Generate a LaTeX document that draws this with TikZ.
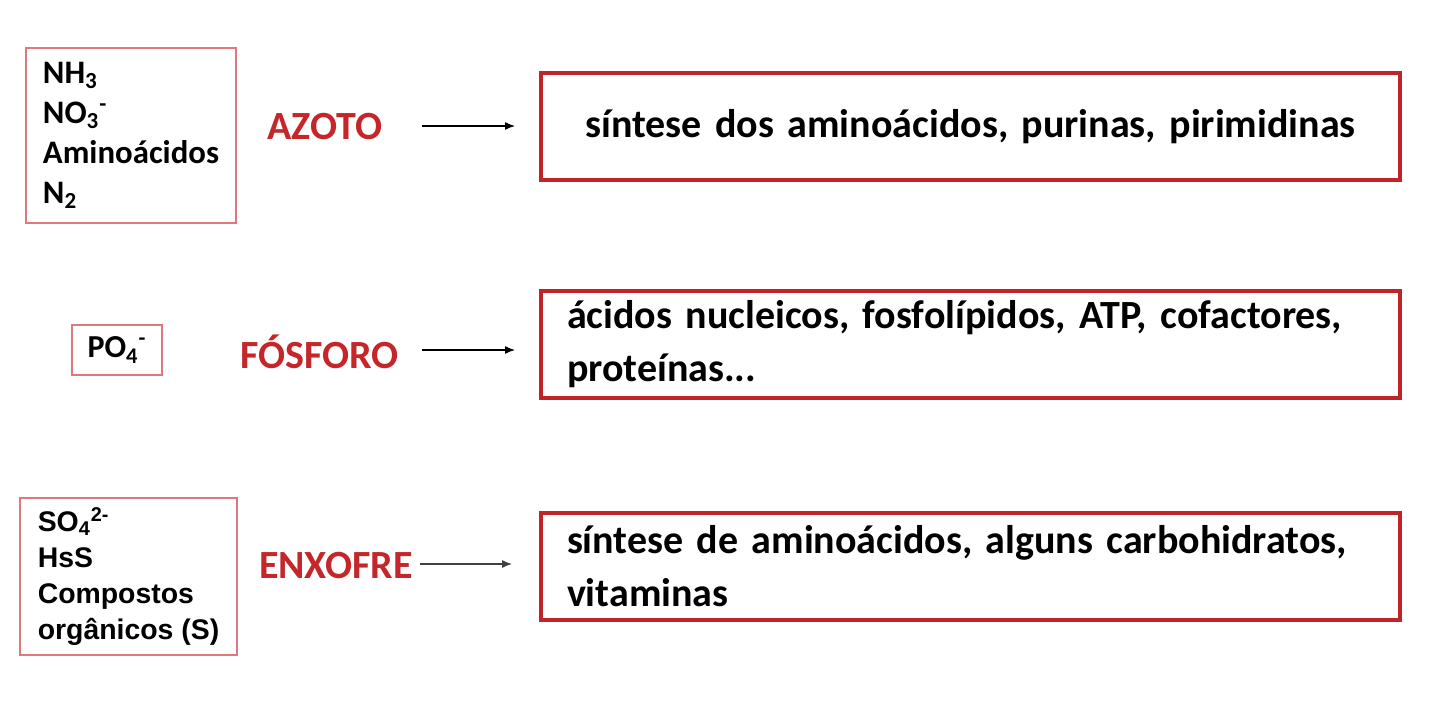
\documentclass[tikz,border=0pt]{standalone}
\usepackage{fontspec}
\setmainfont{Carlito}
\newfontfamily\arialfont{Liberation Sans}
\usepackage{xcolor}
\usetikzlibrary{arrows.meta}
\definecolor{elemred}{RGB}{196,38,42}
\definecolor{boxred}{RGB}{192,36,40}
\definecolor{boxpink}{RGB}{222,120,124}

\begin{document}
\begin{tikzpicture}[x=0.5pt, y=-0.5pt,
        srcbox/.style={draw=boxpink, line width=0.75pt, align=left, inner ysep=0pt},
        elem/.style={text=elemred, font=\bfseries\fontsize{20}{24}\selectfont},
        resbox/.style={draw=boxred, line width=2pt, minimum width=429.5pt, minimum height=53.5pt,
            inner xsep=13pt, text width=403.5pt, font=\bfseries\fontsize{20}{26.5}\selectfont},
        arr/.style={-{Latex[length=5pt, width=4pt]}, line width=0.6pt}]
        \useasboundingbox (0,0) rectangle (1440,717);

        % fontes
        \node[srcbox, minimum width=105pt, minimum height=87.5pt,
            font=\bfseries\fontsize{16.4}{20}\selectfont] at (131, 135.5) (src1)
            {NH\textsubscript{3}\\NO\textsubscript{3}\textsuperscript{-}\\Aminoácidos\\N\textsubscript{2}};
        \node[srcbox, minimum width=45pt, minimum height=25pt, font=\bfseries\fontsize{16}{18}\selectfont]
            at (117, 350) (src2) {PO\textsubscript{4}\textsuperscript{-}};
        \node[srcbox, minimum width=108.5pt, minimum height=78.5pt,
            font=\arialfont\bfseries\fontsize{14.2}{18}\selectfont] at (128.5, 576.5) (src3)
            {SO\textsubscript{4}\textsuperscript{2-}\\HsS\\Compostos\\orgânicos (S)};

        % elementos
        \node[elem] at (325, 127) (azoto) {AZOTO};
        \node[elem] at (319.5, 352) (fosforo) {FÓSFORO};
        \node[elem] at (336, 566) (enxofre) {ENXOFRE};

        % funcoes
        \node[resbox, align=center] at (970.5, 126.5) (res1) {síntese dos aminoácidos, purinas, pirimidinas};
        \node[resbox, align=left] at (970.5, 344.5) (res2) {ácidos nucleicos, fosfolípidos, ATP, cofactores,\\proteínas...};
        \node[resbox, align=left] at (970.5, 566) (res3) {síntese de aminoácidos, alguns carbohidratos,\\vitaminas};

        \coordinate (a1) at (422, 126);\coordinate (b1) at (515, 126);
        \coordinate (a2) at (422, 350);\coordinate (b2) at (515, 350);
        \coordinate (a3) at (420, 564);\coordinate (b3) at (512, 564);
        \draw [arr] (a1) -- (b1);
        \draw [arr] (a2) -- (b2);
        \draw [arr, black!75] (a3) -- (b3);
    \end{tikzpicture}
\end{document}
